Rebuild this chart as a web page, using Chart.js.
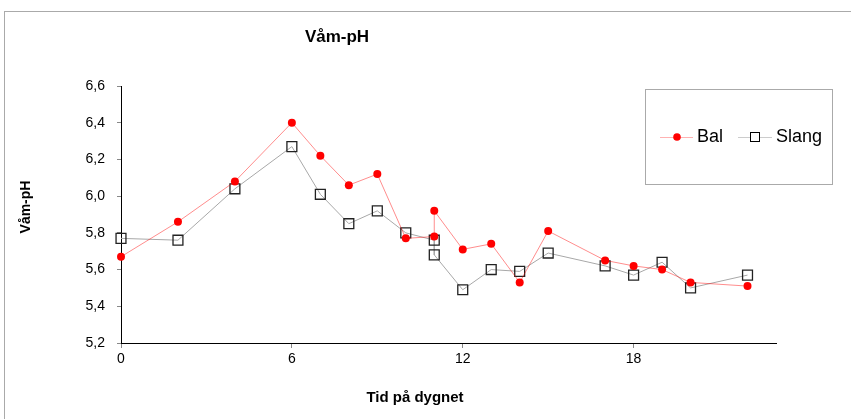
<!DOCTYPE html>
<html>
<head>
<meta charset="utf-8">
<script src="https://cdn.jsdelivr.net/npm/chart.js"></script>
<style>
  body { margin: 0; background: #fff; }
  #wrap { position: relative; width: 851px; height: 419px; }
</style>
</head>
<body>
<div id="wrap"><canvas id="myChart" width="851" height="419"></canvas></div>
<script>
const hours = [0, 2, 4, 6, 7, 8, 9, 10, 11, 11, 12, 13, 14, 15, 17, 18, 19, 20, 22];
const bal = [5.67, 5.86, 6.08, 6.40, 6.22, 6.06, 6.12, 5.77, 5.78, 5.92, 5.71, 5.74, 5.53, 5.81, 5.65, 5.62, 5.60, 5.53, 5.51];
const slang = [5.77, 5.76, 6.04, 6.27, 6.01, 5.85, 5.92, 5.80, 5.76, 5.68, 5.49, 5.60, 5.59, 5.69, 5.62, 5.57, 5.64, 5.50, 5.57];
const xTicks = [0, 6, 12, 18];
const yTicks = [5.2, 5.4, 5.6, 5.8, 6.0, 6.2, 6.4, 6.6];

const FONT = "'Liberation Sans', Arial, sans-serif";
Chart.defaults.font.family = FONT;

function toPoints(values) {
  return values.map((v, i) => {
    return { x: hours[i], y: v };
  });
}

// frame, titles and the legend box
const extras = {
  id: "extras",
  beforeDraw(chart) {
    const ctx = chart.ctx;
    ctx.save();
    ctx.strokeStyle = "#aaaaaa";
    ctx.lineWidth = 1;
    ctx.strokeRect(4.5, 11.5, 900, 500);
    ctx.restore();
  },
  afterDraw(chart) {
    const ctx = chart.ctx;
    ctx.save();
    ctx.fillStyle = "#000";
    ctx.textAlign = "center";
    ctx.textBaseline = "middle";

    ctx.font = "bold 17px " + FONT;
    ctx.fillText("Våm-pH", 337, 37);

    ctx.font = "bold 15px " + FONT;
    ctx.fillText("Tid på dygnet", 415, 398);

    ctx.save();
    ctx.translate(26, 207);
    ctx.rotate(-Math.PI / 2);
    ctx.font = "bold 14px " + FONT;
    ctx.fillText("Våm-pH", 0, 0);
    ctx.restore();

    // legend
    ctx.strokeStyle = "#aaaaaa";
    ctx.lineWidth = 1;
    ctx.strokeRect(645.5, 89.5, 187, 95);

    const ly = 137;
    ctx.strokeStyle = "rgba(255,0,0,0.3)";
    ctx.beginPath();
    ctx.moveTo(660, ly + 0.5);
    ctx.lineTo(693, ly + 0.5);
    ctx.stroke();
    ctx.fillStyle = "#ff0000";
    ctx.beginPath();
    ctx.arc(677, ly, 3.8, 0, Math.PI * 2);
    ctx.fill();

    ctx.strokeStyle = "#cccccc";
    ctx.beginPath();
    ctx.moveTo(738, ly + 0.5);
    ctx.lineTo(772, ly + 0.5);
    ctx.stroke();
    ctx.strokeStyle = "#000";
    ctx.fillStyle = "#fff";
    ctx.fillRect(750.5, ly - 4.5, 9, 9);
    ctx.strokeRect(750.5, ly - 4.5, 9, 9);

    ctx.fillStyle = "#000";
    ctx.textAlign = "left";
    ctx.font = "18px " + FONT;
    ctx.fillText("Bal", 697, ly);
    ctx.fillText("Slang", 776, ly);
    ctx.restore();
  },
};

const ctx = document.getElementById("myChart").getContext("2d");

const chart = new Chart(ctx, {
  type: "line",
  data: {
    datasets: [
      {
        label: "Bal",
        data: toPoints(bal),
        borderColor: "rgba(255,0,0,0.45)",
        borderWidth: 1,
        pointStyle: "circle",
        pointRadius: 4,
        pointBackgroundColor: "#ff0000",
        pointBorderColor: "#ff0000",
        pointBorderWidth: 0,
        clip: false,
      },
      {
        label: "Slang",
        data: toPoints(slang),
        borderColor: "#a8a8a8",
        borderWidth: 1,
        pointStyle: "rect",
        pointRadius: 7,
        pointBackgroundColor: "rgba(0,0,0,0)",
        pointBorderColor: "#222",
        pointBorderWidth: 1.3,
        clip: false,
      },
    ],
  },
  options: {
    responsive: false,
    animation: false,
    layout: { padding: { top: 86, right: 75, left: 0, bottom: 0 } },
    plugins: {
      legend: { display: false },
      title: { display: false },
      tooltip: { enabled: false },
    },
    scales: {
      x: {
        type: "linear",
        min: 0,
        max: 23,
        afterBuildTicks: (scale) => {
          scale.ticks = xTicks.map((v) => ({ value: v }));
        },
        afterFit: (scale) => {
          scale.height = 419 - 343;
        },
        ticks: {
          color: "#000",
          font: { size: 14 },
          padding: 3,
          maxRotation: 0,
        },
        grid: {
          drawOnChartArea: false,
          drawTicks: true,
          tickLength: 5,
          color: "#888",
        },
        border: { color: "#000", width: 1 },
      },
      y: {
        min: 5.2,
        max: 6.6,
        afterBuildTicks: (scale) => {
          scale.ticks = yTicks.map((v) => ({ value: v }));
        },
        afterFit: (scale) => {
          scale.width = 121;
        },
        ticks: {
          color: "#000",
          font: { size: 14 },
          padding: 12,
          callback: (v) => v.toFixed(1).replace(".", ","),
        },
        grid: {
          drawOnChartArea: false,
          drawTicks: true,
          tickLength: 4,
          color: "#888",
        },
        border: { color: "#000", width: 1 },
      },
    },
  },
  plugins: [extras],
});
</script>
</body>
</html>
